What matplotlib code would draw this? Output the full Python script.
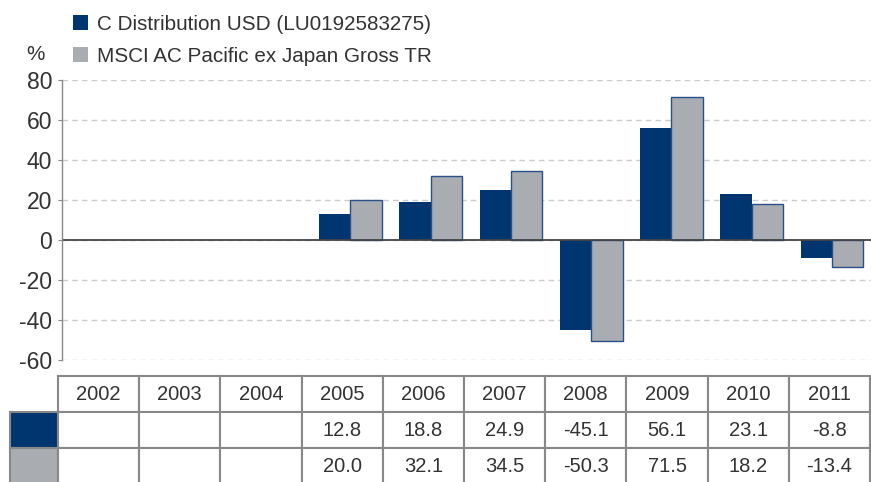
import matplotlib.pyplot as plt
from matplotlib.table import Table
from matplotlib.patches import Patch
import numpy as np

plt.rcParams['font.family'] = ['Liberation Sans', 'DejaVu Sans']
plt.rcParams['axes.unicode_minus'] = False

years = ['2002', '2003', '2004', '2005', '2006', '2007', '2008', '2009', '2010', '2011']
fund = [None, None, None, 12.8, 18.8, 24.9, -45.1, 56.1, 23.1, -8.8]
index = [None, None, None, 20.0, 32.1, 34.5, -50.3, 71.5, 18.2, -13.4]
fund_label = 'C Distribution USD (LU0192583275)'
index_label = 'MSCI AC Pacific ex Japan Gross TR'

navy = '#00366f'
grey = '#a9acb1'
txt = '#333333'
W, H = 871, 482

fig = plt.figure(figsize=(W / 100, H / 100), dpi=100)
ax = fig.add_axes([62 / W, (H - 360) / H, (W - 62) / W, 280 / H])

x = np.arange(len(years))
fv = [np.nan if v is None else v for v in fund]
iv = [np.nan if v is None else v for v in index]
bw = 0.39
ax.bar(x - bw / 2, fv, bw, color=navy, linewidth=0)
ax.bar(x + bw / 2, iv, bw, color=grey, edgecolor='#2a5089', linewidth=1)

ax.set_xlim(-0.595, 9.486)
ax.set_ylim(-60, 80)
ax.set_yticks(range(-60, 81, 20))
ax.set_xticks([])
ax.yaxis.grid(True, linestyle=(0, (4, 3)), color='#cccccc', linewidth=1)
ax.set_axisbelow(True)
ax.axhline(0, color='#444444', linewidth=1.3, zorder=1)
for s in ['top', 'right', 'bottom']:
    ax.spines[s].set_visible(False)
ax.spines['left'].set_color('#888888')
ax.spines['left'].set_linewidth(1)
ax.tick_params(axis='y', length=3, color='#888888', labelsize=16.5,
               labelcolor=txt, pad=4)

# legend and unit label
handles = [Patch(facecolor=navy, linewidth=0), Patch(facecolor=grey, linewidth=0)]
fig.legend(handles, [fund_label, index_label], loc='upper left',
           bbox_to_anchor=(73 / W, 1 - 15 / H), frameon=False, fontsize=14.9,
           handlelength=0.72, handleheight=0.72, handletextpad=0.45,
           labelspacing=0.62, labelcolor=txt, borderaxespad=0, borderpad=0)
fig.text(26 / W, 1 - 55 / H, '%', fontsize=14.9, color=txt, va='center')

# data table under the chart
tax = fig.add_axes([10 / W, (H - 484) / H, 860 / W, 108 / H])
tax.set_axis_off()
tab = Table(tax, bbox=[0, 0, 1, 1])
lw0 = 48 / 860
cw = (1 - lw0) / len(years)
rh = 1 / 3
edge = '#888888'
for j, y in enumerate(years):
    tab.add_cell(0, j + 1, cw, rh, text=y, loc='center', edgecolor=edge)
rows = [(navy, fund), (grey, index)]
for r, (col, vals) in enumerate(rows, start=1):
    tab.add_cell(r, 0, lw0, rh, text='', facecolor=col, edgecolor=edge)
    for j, v in enumerate(vals):
        s = '' if v is None else f'{v:.1f}'
        tab.add_cell(r, j + 1, cw, rh, text=s, loc='center', edgecolor=edge)
tab.auto_set_font_size(False)
tab.set_fontsize(14.5)
for cell in tab.get_celld().values():
    cell.set_linewidth(1.5)
    cell.get_text().set_color(txt)
tax.add_table(tab)

fig.savefig('out.png', dpi=100)
